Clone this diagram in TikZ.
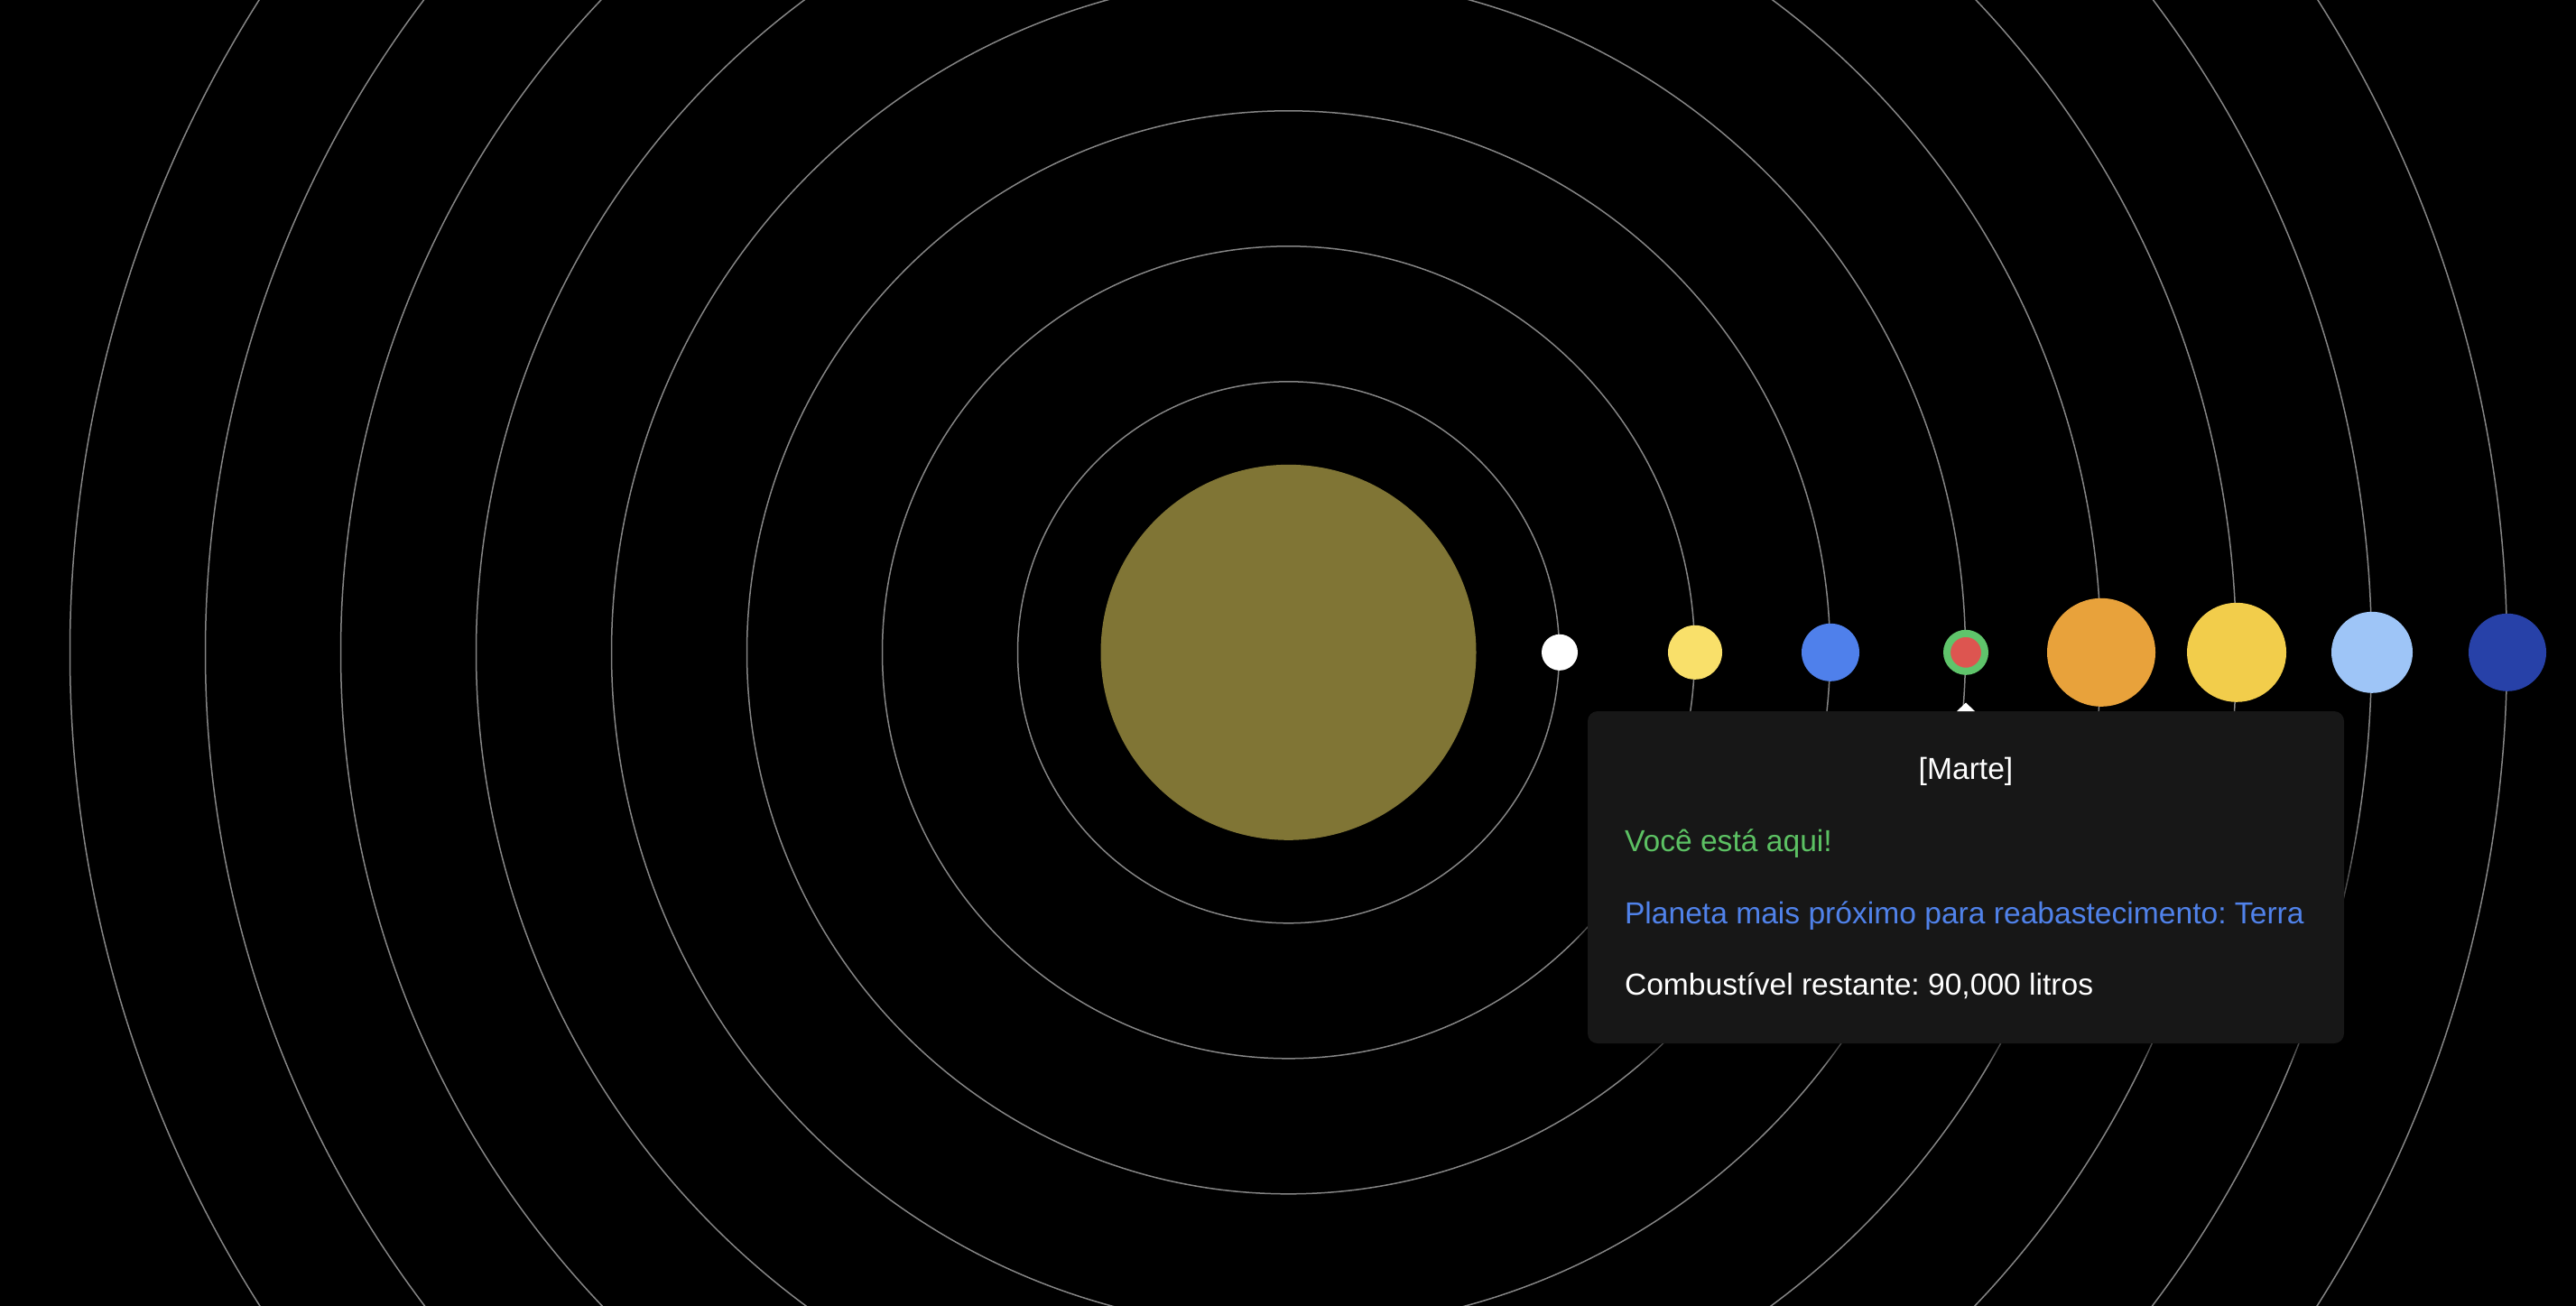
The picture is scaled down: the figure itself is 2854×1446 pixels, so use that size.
\documentclass[tikz,border=0pt]{standalone}
\usepackage{fontspec}
\setmainfont{Liberation Sans}
\frenchspacing
\definecolor{orbitgray}{HTML}{858585}
\definecolor{suncol}{HTML}{807535}
\definecolor{venuscol}{HTML}{F9E06A}
\definecolor{earthcol}{HTML}{4F80EB}
\definecolor{marsgreen}{HTML}{5FC46B}
\definecolor{marsred}{HTML}{DD5550}
\definecolor{jupitercol}{HTML}{E8A23B}
\definecolor{saturncol}{HTML}{F2CD4B}
\definecolor{uranuscol}{HTML}{9EC5F7}
\definecolor{neptunecol}{HTML}{2741A8}
\definecolor{boxcol}{HTML}{171717}
\definecolor{txtgreen}{HTML}{5CC163}
\definecolor{txtblue}{HTML}{5082EA}
\tikzset{
  orbit/.style={draw=orbitgray, line width=1.5pt},
  planet/.style={circle, inner sep=0pt, outer sep=0pt, draw=none},
  tipbox/.style={rectangle, rounded corners=11pt, fill=boxcol, inner sep=0pt, outer sep=0pt},
  tiptext/.style={inner sep=0pt, outer sep=0pt, font=\fontsize{33.6}{40}\selectfont},
}
\begin{document}
\begin{tikzpicture}[x=1pt, y=-1pt]
\useasboundingbox (0,0) rectangle (2854,1446);
\fill[black] (-6,-6) rectangle (2860,1452);
\coordinate (c) at (1427.5,722.8);
% orbits
\foreach \r in {300,450,600,750,900,1050,1200,1350}
  \draw[orbit] (c) circle[radius=\r];
% sun and planets
\node[planet, fill=suncol, minimum size=416pt] (sun) at (c) {};
\node[planet, fill=white, minimum size=40pt] (mercury) at (1728,722.8) {};
\node[planet, fill=venuscol, minimum size=60pt] (venus) at (1878,722.8) {};
\node[planet, fill=earthcol, minimum size=64pt] (earth) at (2028,722.8) {};
\node[planet, fill=marsred, draw=marsgreen, line width=8pt, minimum size=42pt] (mars) at (2178,722.8) {};
\node[planet, fill=jupitercol, minimum size=120pt] (jupiter) at (2328,722.8) {};
\node[planet, fill=saturncol, minimum size=110pt] (saturn) at (2478,722.8) {};
\node[planet, fill=uranuscol, minimum size=90pt] (uranus) at (2628,722.8) {};
\node[planet, fill=neptunecol, minimum size=86pt] (neptune) at (2778,722.8) {};
% tooltip shadow
\foreach \i in {1,...,8}
  \fill[black, opacity=0.07, rounded corners=11pt]
    (1759-\i*2, 788+6-\i*1) rectangle (2597+\i*2, 1156+4+\i*2.5);
% tooltip box
\node[tipbox, minimum width=838pt, minimum height=368pt, anchor=north west] (tip) at (1759,788) {};
\fill[white] ([xshift=-10pt]tip.north) -- ([yshift=9.5pt]tip.north) -- ([xshift=10pt]tip.north) -- cycle;
% texts
\node[tiptext, text=white, anchor=base] (title) at (2178,863.3) {[Marte]};
\node[tiptext, text=txtgreen, anchor=base west] (here) at (1800,943.3) {Você está aqui!};
\node[tiptext, text=txtblue, anchor=base west] (nearest) at (1800,1023.3) {Planeta mais próximo para reabastecimento: Terra};
\node[tiptext, text=white, anchor=base west] (fuel) at (1800,1102.7) {Combustível restante: 90,000 litros};
\end{tikzpicture}
\end{document}
